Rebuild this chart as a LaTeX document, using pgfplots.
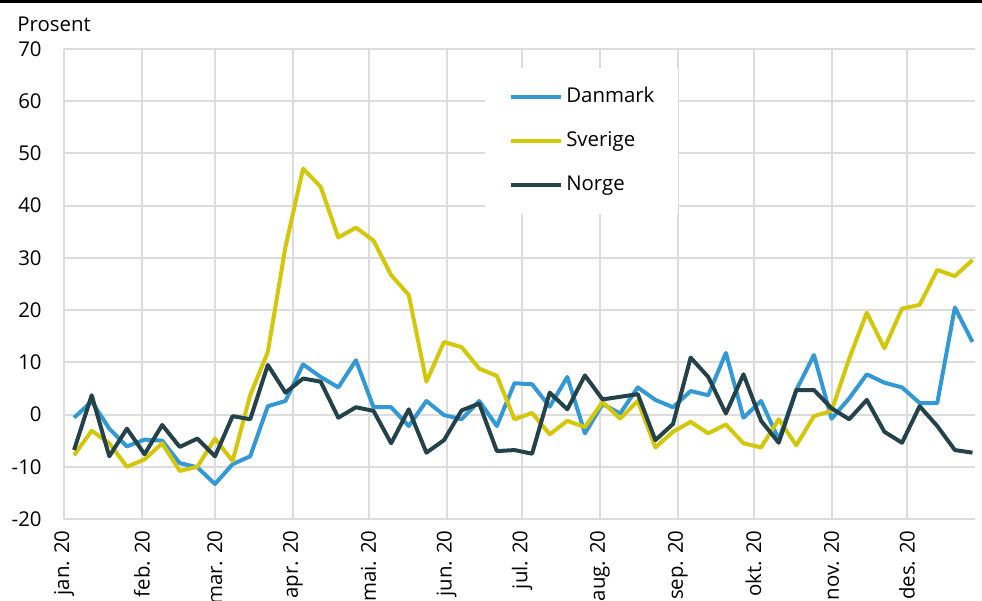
\documentclass[border=0pt]{standalone}
\usepackage{fontspec}
\setmainfont{Open Sans}
\usepackage{pgfplots}
\pgfplotsset{compat=1.18}
\definecolor{dkblue}{HTML}{3399D6}
\definecolor{seyellow}{HTML}{D4C70A}
\definecolor{nodark}{HTML}{24424A}
\definecolor{gridgray}{HTML}{DCDCDC}

\pgfplotstableread{
x dk se no
4 -0.6 -7.8 -6.8
11 2.5 -3.1 3.7
18 -2.7 -5.5 -8.0
25 -6.1 -10.0 -2.7
32 -4.8 -8.6 -7.6
39 -5.0 -5.5 -2.0
46 -9.3 -10.8 -6.2
53 -10.1 -10.0 -4.6
60 -13.3 -4.6 -8.0
67 -9.5 -8.9 -0.3
74 -8.0 3.7 -0.9
81 1.6 12.0 9.5
88 2.6 32.1 4.2
95 9.6 47.1 6.9
102 7.2 43.6 6.3
109 5.2 33.9 -0.6
116 10.4 35.8 1.4
123 1.4 33.3 0.7
130 1.4 26.7 -5.5
137 -2.2 22.9 1.0
144 2.6 6.3 -7.3
151 -0.1 13.9 -4.9
158 -0.9 12.9 0.8
165 2.6 8.8 2.1
172 -2.2 7.4 -7.0
179 6.0 -0.9 -6.8
186 5.8 0.3 -7.5
193 1.5 -3.8 4.2
200 7.2 -1.2 1.0
207 -3.6 -2.4 7.5
214 2.0 2.4 2.9
221 0.2 -0.8 3.4
228 5.2 2.6 3.9
235 2.8 -6.3 -4.9
242 1.4 -3.3 -1.8
249 4.5 -1.4 10.9
256 3.7 -3.6 7.2
263 11.8 -1.9 0.2
270 -0.6 -5.5 7.7
277 2.6 -6.3 -1.2
284 -4.8 -0.9 -5.4
291 4.7 -5.9 4.7
298 11.4 -0.3 4.7
305 -0.8 0.7 1.2
312 3.1 10.7 -0.9
319 7.7 19.5 2.8
326 6.1 12.7 -3.3
333 5.2 20.3 -5.4
340 2.2 21.0 1.6
347 2.2 27.7 -2.2
354 20.5 26.5 -6.8
361 13.9 29.6 -7.3
}\datatable

\begin{document}
\begin{tikzpicture}[font=\fontsize{10.2pt}{12pt}\selectfont]
\useasboundingbox (0,0) rectangle (491pt,300.5pt);
\fill[black] (0,299pt) rectangle (491pt,300.5pt);
\node[anchor=base west, inner sep=0pt] at (8.5pt,284.5pt) {Prosent};
\begin{axis}[
  at={(32pt,41pt)}, anchor=south west,
  scale only axis, width=455.5pt, height=235pt,
  xmin=0, xmax=362, ymin=-20, ymax=70,
  axis line style={draw=none},
  major tick length=0pt,
  grid=major, grid style={gridgray, line width=1pt},
  xtick={0,31,60,91,121,152,182,213,244,274,305,335},
  xticklabels={jan. 20,feb. 20,mar. 20,apr. 20,mai. 20,jun. 20,jul. 20,aug. 20,sep. 20,okt. 20,nov. 20,des. 20},
  xticklabel style={rotate=90, anchor=east, inner sep=0pt, xshift=-5.5pt},
  ytick={-20,-10,0,10,20,30,40,50,60,70},
  yticklabels={-20,-10,0,10,20,30,40,50,60,70},
  yticklabel style={anchor=east, inner sep=0pt, xshift=-11pt},
  tick label style={font=\fontsize{10.2pt}{12pt}\selectfont},
  legend style={at={(rel axis cs:0.462,0.96)}, anchor=north west,
    draw=none, fill=white, inner xsep=12pt, inner ysep=10pt,
    font=\fontsize{10.2pt}{12pt}\selectfont,
    nodes={inner sep=0pt, text height=7pt, text depth=2pt},
    row sep=13pt},
  legend cell align=left,
  legend image code/.code={\draw[#1, line width=2pt] (0pt,0pt) -- (25pt,0pt);},
]
\addplot[dkblue, line width=2pt, line join=round] table[x=x, y=dk] {\datatable};
\addlegendentry{\hspace{1.5pt}Danmark\hspace{-6pt}}
\addplot[seyellow, line width=2pt, line join=round] table[x=x, y=se] {\datatable};
\addlegendentry{\hspace{1.5pt}Sverige}
\addplot[nodark, line width=2pt, line join=round] table[x=x, y=no] {\datatable};
\addlegendentry{\hspace{1.5pt}Norge}
\end{axis}
\end{tikzpicture}
\end{document}
